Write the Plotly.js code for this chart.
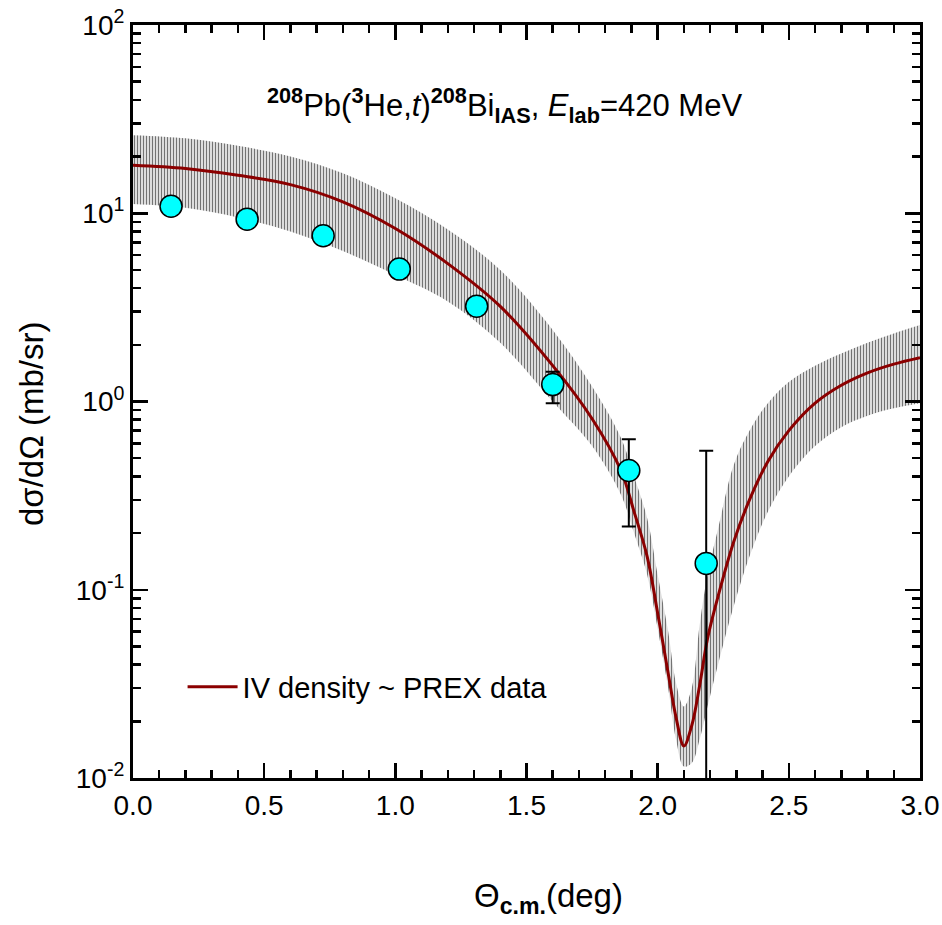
<!DOCTYPE html>
<html>
<head>
<meta charset="utf-8">
<script src="https://cdn.plot.ly/plotly-3.0.1.min.js"></script>
<style>html,body{margin:0;padding:0;background:#fff;}#chart{width:942px;height:925px;}</style>
</head>
<body>
<div id="chart"></div>
<script>
// Theory curve: IV density ~ PREX data
const theta_theory = [0, 0.2, 0.4, 0.6, 0.8, 1.0, 1.2, 1.4, 1.6, 1.75, 1.86, 1.91, 1.96, 2.0, 2.04, 2.07, 2.1, 2.13, 2.16, 2.19, 2.23, 2.29, 2.35, 2.42, 2.5, 2.6, 2.7, 2.8, 2.9, 3.0];
const xs_theory    = [18.0, 17.3, 15.9, 14.2, 11.5, 8.3, 5.4, 3.2, 1.55, 0.81, 0.43, 0.26, 0.15, 0.075, 0.036, 0.021, 0.0148, 0.019, 0.031, 0.055, 0.092, 0.18, 0.30, 0.48, 0.70, 0.98, 1.22, 1.42, 1.58, 1.71];
// Uncertainty band
const band_high    = [26.0, 25.0, 22.8, 20.0, 16.3, 12.0, 8.2, 5.0, 2.4, 1.2, 0.64, 0.40, 0.24, 0.12, 0.06, 0.032, 0.024, 0.03, 0.065, 0.12, 0.21, 0.46, 0.70, 0.98, 1.27, 1.55, 1.8, 2.05, 2.3, 2.55];
const band_low     = [11.2, 10.7, 9.5, 8.0, 6.3, 4.7, 3.4, 2.05, 1.0, 0.58, 0.32, 0.2, 0.12, 0.062, 0.03, 0.016, 0.0115, 0.012, 0.016, 0.024, 0.04, 0.082, 0.15, 0.26, 0.40, 0.58, 0.73, 0.84, 0.92, 0.98];
// Experimental data
const theta_data = [0.145, 0.435, 0.725, 1.015, 1.31, 1.6, 1.89, 2.185];
const xs_data    = [10.9, 9.3, 7.6, 5.05, 3.21, 1.23, 0.43, 0.138];
const err_plus   = [0.4, 0.35, 0.3, 0.2, 0.15, 0.21, 0.20, 0.41];
const err_minus  = [0.4, 0.35, 0.3, 0.2, 0.15, 0.25, 0.213, 0.136];
// Axis ticks
const x_tickvals = [0, 0.5, 1.0, 1.5, 2.0, 2.5, 3.0];
const x_ticktext = ['0.0', '0.5', '1.0', '1.5', '2.0', '2.5', '3.0'];
const y_tickvals = [0.01, 0.1, 1, 10, 100];
const y_ticktext = ['10<sup>-2</sup>', '10<sup>-1</sup>', '10<sup>0</sup>', '10<sup>1</sup>', '10<sup>2</sup>'];
const x_minorvals = [];
for (let i = 1; i < 30; i++) { if (i % 5 !== 0) x_minorvals.push(i / 10); }
const y_minorvals = [];
[0.01, 0.1, 1, 10].forEach(d => { for (let k = 2; k <= 9; k++) y_minorvals.push(+(k * d).toPrecision(3)); });

const FONT = 'Arial, "Liberation Sans", sans-serif';

const traces = [
  { x: theta_theory, y: band_low, mode: 'lines', line: { width: 0, shape: 'spline' },
    showlegend: false, hoverinfo: 'skip' },
  { x: theta_theory, y: band_high, mode: 'lines', line: { width: 0, shape: 'spline' },
    fill: 'tonexty', fillcolor: 'rgba(0,0,0,0)',
    fillpattern: { shape: '|', size: 3, solidity: 0.5, fgcolor: '#737373', bgcolor: 'rgba(255,255,255,0)' },
    showlegend: false, hoverinfo: 'skip' },
  { x: theta_theory, y: xs_theory, mode: 'lines', name: 'IV density ~ PREX data',
    line: { color: '#8b0000', width: 3, shape: 'spline' } },
  { x: theta_data, y: xs_data, mode: 'markers', showlegend: false,
    marker: { color: '#00ffff', size: 22, line: { color: '#000', width: 1.5 } },
    error_y: { type: 'data', symmetric: false, array: err_plus, arrayminus: err_minus,
               color: '#000', thickness: 2, width: 7 } }
];

const layout = {
  width: 942, height: 925,
  margin: { l: 133, r: 22, t: 25, b: 147 },
  paper_bgcolor: '#fff', plot_bgcolor: '#fff',
  font: { family: FONT, color: '#000', size: 28 },
  showlegend: true,
  legend: { x: 0.063, y: 0.121, xanchor: 'left', yanchor: 'middle', bgcolor: 'rgba(0,0,0,0)',
            font: { family: FONT, size: 29 }, itemwidth: 50 },
  xaxis: {
    range: [0, 3], tickmode: 'array', tickvals: x_tickvals, ticktext: x_ticktext,
    showline: true, linewidth: 3, linecolor: '#000', mirror: 'ticks',
    ticks: 'inside', ticklen: 15, tickwidth: 2.5, tickcolor: '#000',
    showgrid: false, zeroline: false,
    tickfont: { family: FONT, size: 28 },
    minor: { tickmode: 'array', tickvals: x_minorvals, ticks: 'inside', ticklen: 8, tickwidth: 2.5, tickcolor: '#000', showgrid: false },
    title: { text: '' }
  },
  yaxis: {
    type: 'log', range: [-2, 2],
    tickmode: 'array', tickvals: y_tickvals, ticktext: y_ticktext,
    showline: true, linewidth: 3, linecolor: '#000', mirror: 'ticks',
    ticks: 'inside', ticklen: 15, tickwidth: 2.5, tickcolor: '#000',
    showgrid: false, zeroline: false,
    tickfont: { family: FONT, size: 28 },
    minor: { tickmode: 'array', tickvals: y_minorvals, ticks: 'inside', ticklen: 8, tickwidth: 2.5, tickcolor: '#000', showgrid: false },
    title: { text: '' }
  },
  annotations: [
    { xref: 'paper', yref: 'paper', x: 0.4726, y: 0.893, xanchor: 'center', yanchor: 'middle',
      showarrow: false, font: { family: FONT, size: 31 },
      text: '<b><sup>208</sup></b>Pb(<b><sup>3</sup></b>He,<i>t</i>)<b><sup>208</sup></b>Bi<b><sub>IAS</sub></b>, <i>E</i><b><sub>lab</sub></b>=420 MeV' },
    { xref: 'paper', yref: 'paper', x: 0.528, y: -0.160, xanchor: 'center', yanchor: 'middle',
      showarrow: false, font: { family: FONT, size: 33 },
      text: 'Θ<sub><b>c.m.</b></sub>(deg)' },
    { xref: 'paper', yref: 'paper', x: -0.1296, y: 0.470, xanchor: 'center', yanchor: 'middle',
      showarrow: false, textangle: -90, font: { family: FONT, size: 33 },
      text: 'dσ/dΩ (mb/sr)' }
  ]
};

Plotly.newPlot('chart', traces, layout, { displayModeBar: false, staticPlot: true });
</script>
</body>
</html>
